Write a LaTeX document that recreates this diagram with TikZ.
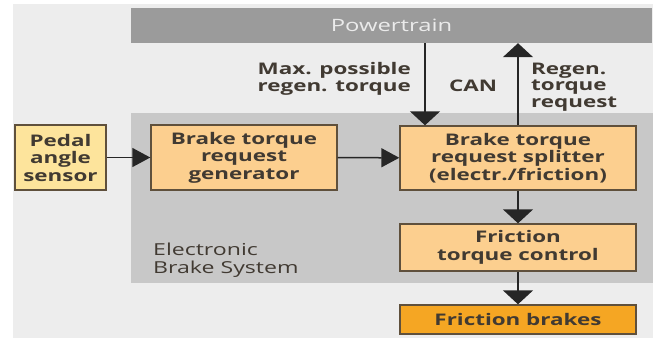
\documentclass[tikz,border=0pt]{standalone}
\usepackage{fontspec}
\setmainfont[FakeStretch=1.4]{Open Sans}
\usepackage{xcolor}
\usetikzlibrary{arrows.meta}
\usetikzlibrary{math}
\definecolor{mybg}{RGB}{237,237,237}
\definecolor{mytrain}{RGB}{155,155,155}
\definecolor{myebs}{RGB}{200,200,200}
\definecolor{mypedal}{RGB}{253,228,156}
\definecolor{myorange}{RGB}{252,207,143}
\definecolor{mybrake}{RGB}{245,166,35}
\definecolor{myedge}{RGB}{95,80,60}
\definecolor{mytext}{RGB}{65,58,50}

\begin{document}
\begin{tikzpicture}[x=1pt,y=-1pt,
  block/.style={draw=myedge, line width=1.4pt, fill=myorange, text=mytext, align=center,
    inner sep=0pt, font=\bfseries\fontsize{16}{17.5}\selectfont},
  lbl/.style={text=mytext, inner sep=0pt, font=\bfseries\fontsize{16}{16.5}\selectfont},
  hflow/.style={-{Triangle[width=19pt,length=18pt]}, line width=1.5pt, color=black!85},
  vflow/.style={-{Triangle[width=30pt,length=14pt]}, line width=1.5pt, color=black!85}
]
\tikzmath{
\W=236;
}
\useasboundingbox (0,0) rectangle (657,338);
%background
\fill[mybg] (13,4) rectangle (653,338);
\node (pt) [fill=mytrain, minimum width=521pt, minimum height=35pt, inner sep=0pt,
  text=white!92!black, font=\fontsize{17}{17}\selectfont] at (391.5,25.5) {Powertrain};
\node (ebs) [fill=myebs, minimum width=522pt, minimum height=170pt, inner sep=0pt] at (392,198) {};
\node (ebslbl) [anchor=west, align=left, inner sep=0pt, text=mytext,
  font=\fontsize{16.5}{18}\selectfont] at (153,260) {Electronic\\Brake System};

%boxes
\node (pedal) [block, fill=mypedal, minimum width=91pt, minimum height=65pt] at (60.5,157.5) {Pedal\\angle\\sensor};
\node (gen) [block, minimum width=186pt, minimum height=65pt] at (244,157.5) {Brake torque\\request\\generator};
\node (split) [block, minimum width=\W pt, minimum height=64pt] at (518,158) {Brake torque\\request splitter\\(electr./friction)};
\node (ftc) [block, minimum width=\W pt, minimum height=47pt] at (518,247.5) {Friction\\torque control};
\node (brakes) [block, fill=mybrake, minimum width=\W pt, minimum height=29pt] at (518,319.5) {Friction brakes};

%labels
\node (maxlbl) [lbl, anchor=east, align=right] at (411,79) {Max. possible\\regen. torque};
\node (can) [lbl] at (473,86) {CAN};
\node (reqlbl) [lbl, anchor=west, align=left] at (531,87) {Regen.\\torque\\request};

%arrows
\coordinate (down) at (425,0);
\draw[vflow] (pt.south -| down) -- (split.north -| down);
\draw[vflow] (split) -- (pt.south -| split);
\draw[hflow] (pedal) -- (gen);
\draw[hflow] (gen) -- (split);
\draw[vflow] (split) -- (ftc);
\draw[vflow] (ftc) -- (brakes);
\end{tikzpicture}
\end{document}
